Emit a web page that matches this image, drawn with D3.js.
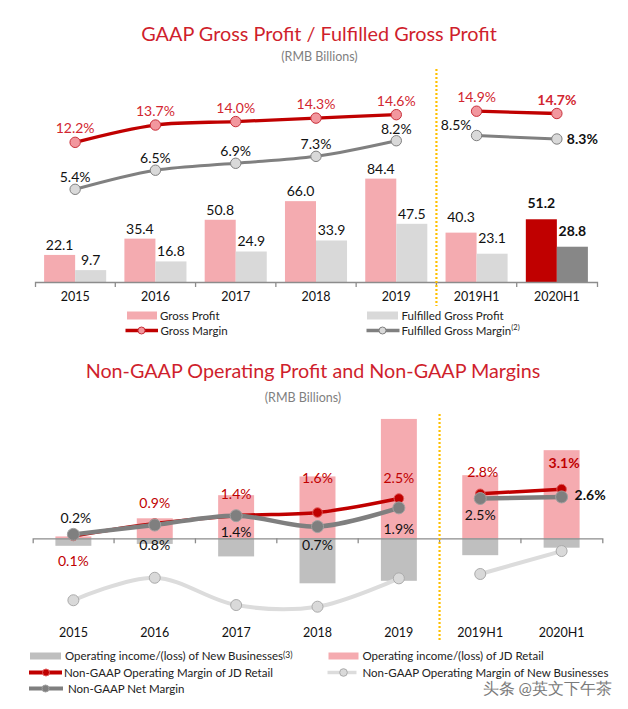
<!DOCTYPE html>
<html><head><meta charset="utf-8">
<script src="https://cdn.jsdelivr.net/npm/d3@7"></script>
<style>
body{margin:0;background:#fff}
svg{display:block}
text{font-family:Lato,"Open Sans",sans-serif}
</style>
</head><body>
<svg id="c" width="628" height="709"></svg>
<script>
// ---------------- DATA ----------------
const categories = ["2015","2016","2017","2018","2019","2019H1","2020H1"];
// Chart 1 (RMB billions / %)
const grossProfit = [22.1, 35.4, 50.8, 66.0, 84.4, 40.3, 51.2];
const fulfilledGrossProfit = [9.7, 16.8, 24.9, 33.9, 47.5, 23.1, 28.8];
const grossMargin = [12.2, 13.7, 14.0, 14.3, 14.6, 14.9, 14.7];
const fulfilledGrossMargin = [5.4, 6.5, 6.9, 7.3, 8.2, 8.5, 8.3];
// Chart 2 (RMB billions / %) - bar values
const retailOpIncome = [0.3, 3.2, 6.9, 9.9, 19.1, 10.1, 14.1];
const newBizOpIncome = [-1.2, -0.9, -2.9, -7.2, -6.8, -2.7, -1.5];
const retailOpMargin = [0.1, 0.9, 1.4, 1.6, 2.5, 2.8, 3.1];
const netMargin = [0.2, 0.8, 1.4, 0.7, 1.9, 2.5, 2.6];
const newBizOpMargin = [-41.5, -26.5, -44.7, -45.8, -26.9, -24.0, -8.7];
// Text
const title1 = "GAAP Gross Profit / Fulfilled Gross Profit";
const title2 = "Non-GAAP Operating Profit and Non-GAAP Margins";
const subtitle = "(RMB Billions)";

// ---------------- STYLE ----------------
const RED = "#c00000", PINK = "#f4abb0", LGREY = "#d9d9d9", GREY = "#808080", TRED = "#d22630";
const svg = d3.select("#c");
svg.append("rect").attr("width",628).attr("height",709).attr("fill","#fff");

function fit(t, w){ const L=t.node().getComputedTextLength(); const fs=parseFloat(t.attr("font-size")); t.attr("font-size", fs*w/L); }

// Titles
fit(svg.append("text").attr("x",319).attr("y",40.5).attr("text-anchor","middle").attr("font-size",20).attr("fill","#cf1f2d").text(title1), 356);
fit(svg.append("text").attr("x",313).attr("y",377.5).attr("text-anchor","middle").attr("font-size",20).attr("fill","#cf1f2d").text(title2), 455);
svg.append("text").attr("x",319.5).attr("y",61).attr("text-anchor","middle").attr("font-size",12.5).attr("fill","#7f7f7f").text(subtitle);
svg.append("text").attr("x",303).attr("y",402).attr("text-anchor","middle").attr("font-size",12.5).attr("fill","#7f7f7f").text(subtitle);

const isH = c => c.includes("H1");
const hl = i => categories[i] === "2020H1";
const curve = d3.curveCatmullRom.alpha(0.5);

// ================= CHART 1 =================
const g1 = svg.append("g");
const x1 = d3.scaleBand().domain(categories).range([35, 597]);
const sub1 = d3.scaleBand().domain(["gp","fgp"]).range([0, x1.bandwidth()]).paddingInner(0).paddingOuter(0.2935);
const yb1 = d3.scaleLinear().domain([0, 100]).range([282, 159.5]);
const ygm = d3.scaleLinear().domain([0, 20]).range([283, 283 - 230.6]);
const yfgm = d3.scaleLinear().domain([0, 10]).range([283, 283 - 173.5]);

// bars
categories.forEach((c, i) => {
  const vals = [["gp", grossProfit[i], hl(i) ? RED : PINK], ["fgp", fulfilledGrossProfit[i], hl(i) ? "#878787" : LGREY]];
  vals.forEach(([k, v, col]) => {
    const x = x1(c) + sub1(k);
    g1.append("rect").attr("x", x).attr("y", yb1(v)).attr("width", sub1.bandwidth()).attr("height", yb1(0) - yb1(v)).attr("fill", col);
    g1.append("text").attr("x", x + sub1.bandwidth()/2).attr("y", yb1(v) - (isH(c) ? 11 : 5))
      .attr("text-anchor","middle").attr("font-size",14).attr("fill","#111")
      .attr("font-weight", hl(i) ? "bold" : null).text(v.toFixed(1));
  });
});

// axis
const ax1 = g1.append("g").attr("transform","translate(0,282)")
  .call(d3.axisBottom(x1).tickSize(0).tickSizeOuter(5));
ax1.select(".domain").attr("stroke","#8c8c8c").attr("stroke-width",1.3);
ax1.selectAll(".tick text").attr("dy", null).attr("y", 19).attr("font-size",12.5).attr("fill","#111").attr("font-family","Lato");
categories.slice(1).forEach(c => g1.append("line").attr("x1", x1(c)).attr("x2", x1(c)).attr("y1",282).attr("y2",287).attr("stroke","#8c8c8c").attr("stroke-width",1.3));

// divider
g1.append("line").attr("x1", x1("2019H1")).attr("x2", x1("2019H1")).attr("y1",69).attr("y2",306)
  .attr("stroke","#ffc000").attr("stroke-width",2.2).attr("stroke-dasharray","2,2");

// lines
function drawLine(g, xs, ys, idx, color, width){
  const ln = d3.line().x(i => xs(categories[i]) + xs.bandwidth()/2).y(i => ys(i)).curve(curve);
  g.append("path").attr("d", ln(idx)).attr("fill","none").attr("stroke",color).attr("stroke-width",width).attr("stroke-linecap","round");
}
const annual = [0,1,2,3,4], half = [5,6];
[annual, half].forEach(idx => {
  drawLine(g1, x1, i => yfgm(fulfilledGrossMargin[i]), idx, GREY, 3);
  drawLine(g1, x1, i => ygm(grossMargin[i]), idx, RED, 3.3);
});
const cx1 = i => x1(categories[i]) + x1.bandwidth()/2;
categories.forEach((c, i) => {
  g1.append("circle").attr("cx", cx1(i)).attr("cy", yfgm(fulfilledGrossMargin[i])).attr("r",5.2).attr("fill",LGREY).attr("stroke",GREY).attr("stroke-width",1);
  g1.append("circle").attr("cx", cx1(i)).attr("cy", ygm(grossMargin[i])).attr("r",5.2).attr("fill","#f2979e").attr("stroke","#c8303a").attr("stroke-width",1);
  // gross margin label
  g1.append("text").attr("x", cx1(i)).attr("y", ygm(grossMargin[i]) - 9).attr("text-anchor","middle")
    .attr("font-size",14).attr("fill",TRED).attr("font-weight", hl(i) ? "bold" : null).text(grossMargin[i].toFixed(1) + "%");
  // fulfilled margin label
  const t = g1.append("text").attr("font-size",14).attr("fill","#111").attr("font-weight", hl(i) ? "bold" : null).text(fulfilledGrossMargin[i].toFixed(1) + "%");
  const cy = yfgm(fulfilledGrossMargin[i]);
  if (c === "2019H1") t.attr("x", cx1(i) - 5).attr("y", cy - 6).attr("text-anchor","end");
  else if (c === "2020H1") t.attr("x", cx1(i) + 10).attr("y", cy + 5).attr("text-anchor","start");
  else t.attr("x", cx1(i)).attr("y", cy - 7).attr("text-anchor","middle");
});

// legend 1
const lg1 = svg.append("g").attr("font-size",11.5).attr("fill","#222");
lg1.append("rect").attr("x",127).attr("y",311.5).attr("width",30).attr("height",8).attr("fill",PINK);
lg1.append("text").attr("x",160).attr("y",319.5).text("Gross Profit");
lg1.append("rect").attr("x",367).attr("y",311.5).attr("width",31).attr("height",8).attr("fill",LGREY);
lg1.append("text").attr("x",401.5).attr("y",319.5).text("Fulfilled Gross Profit");
lg1.append("line").attr("x1",125.5).attr("x2",158).attr("y1",330.5).attr("y2",330.5).attr("stroke",RED).attr("stroke-width",3.5);
lg1.append("circle").attr("cx",141.5).attr("cy",330.5).attr("r",3.5).attr("fill","#f2979e").attr("stroke","#c8303a");
lg1.append("text").attr("x",160.5).attr("y",334.5).text("Gross Margin");
lg1.append("line").attr("x1",366.5).attr("x2",399.5).attr("y1",330.5).attr("y2",330.5).attr("stroke",GREY).attr("stroke-width",3.5);
lg1.append("circle").attr("cx",382.5).attr("cy",330.5).attr("r",3.5).attr("fill",LGREY).attr("stroke",GREY);
const t1 = lg1.append("text").attr("x",401.5).attr("y",334.5).text("Fulfilled Gross Margin");
t1.append("tspan").attr("font-size",7.5).attr("dy",-5).text("(2)");

// ================= CHART 2 =================
const g2 = svg.append("g");
const x2 = d3.scaleBand().domain(categories).range([32.7, 602.3]);
const yb2 = d3.scaleLinear().domain([0, 20]).range([538.3, 538.3 - 125]);
const ym2 = d3.scaleLinear().domain([0, 5]).range([537.5, 537.5 - 78]);
const ynb = d3.scaleLinear().domain([-60, 0]).range([538 + 90, 538]);
const bw2 = x2.bandwidth() * 0.442;
const cx2 = i => x2(categories[i]) + x2.bandwidth()/2;

categories.forEach((c, i) => {
  const r = retailOpIncome[i], n = newBizOpIncome[i];
  g2.append("rect").attr("x", cx2(i) - bw2/2).attr("y", yb2(Math.max(r,0))).attr("width", bw2).attr("height", Math.abs(yb2(r) - yb2(0))).attr("fill","#f5abb0");
  g2.append("rect").attr("x", cx2(i) - bw2/2).attr("y", yb2(Math.max(n,0))).attr("width", bw2).attr("height", Math.abs(yb2(n) - yb2(0))).attr("fill","#bfbfbf");
});

const ax2 = g2.append("g").attr("transform","translate(0,538.3)")
  .call(d3.axisBottom(x2).tickSize(0).tickSizeOuter(5));
ax2.select(".domain").attr("stroke","#8c8c8c").attr("stroke-width",1.3);
ax2.selectAll(".tick text").attr("dy", null).attr("y", 98.7).attr("font-size",12.5).attr("fill","#111").attr("font-family","Lato");
categories.slice(1).forEach(c => g2.append("line").attr("x1", x2(c)).attr("x2", x2(c)).attr("y1",538.3).attr("y2",543.3).attr("stroke","#8c8c8c").attr("stroke-width",1.3));

g2.append("line").attr("x1", x2("2019H1")).attr("x2", x2("2019H1")).attr("y1",414).attr("y2",642)
  .attr("stroke","#ffc000").attr("stroke-width",2.2).attr("stroke-dasharray","2,2");

// new businesses margin line
[annual, half].forEach(idx => drawLine(g2, x2, i => ynb(newBizOpMargin[i]), idx, "#dcdcdc", 4));
categories.forEach((c, i) => g2.append("circle").attr("cx", cx2(i)).attr("cy", ynb(newBizOpMargin[i])).attr("r",5.5).attr("fill","#d9d9d9").attr("stroke","#ababab").attr("stroke-width",1));
// JD retail margin (red) and net margin (grey)
[annual, half].forEach(idx => drawLine(g2, x2, i => ym2(retailOpMargin[i]), idx, RED, 3.5));
categories.forEach((c, i) => g2.append("circle").attr("cx", cx2(i)).attr("cy", ym2(retailOpMargin[i])).attr("r",4.8).attr("fill",RED).attr("stroke","#e05a5a").attr("stroke-width",1));
[annual, half].forEach(idx => drawLine(g2, x2, i => ym2(netMargin[i]), idx, "#7f7f7f", 4.5));
categories.forEach((c, i) => g2.append("circle").attr("cx", cx2(i)).attr("cy", ym2(netMargin[i])).attr("r",6).attr("fill","#7f7f7f").attr("stroke","#a0a0a0").attr("stroke-width",1));

// labels
const redDy = [29.7, -15.8, -16.4, -29.2, -15.2, -16.5, -20.8];
const netDy = [-11, 25, 21, 23.5, 26, 21.5, 3];
categories.forEach((c, i) => {
  g2.append("text").attr("x", cx2(i) + (isH(c) ? 2.5 : 0)).attr("y", ym2(retailOpMargin[i]) + redDy[i]).attr("text-anchor","middle")
    .attr("font-size",14).attr("fill",RED).attr("font-weight", hl(i) ? "bold" : null).text(retailOpMargin[i].toFixed(1) + "%");
  const t = g2.append("text").attr("font-size",14).attr("fill","#111").attr("font-weight", hl(i) ? "bold" : null).text(netMargin[i].toFixed(1) + "%");
  if (hl(i)) t.attr("x", cx2(i) + 13).attr("y", ym2(netMargin[i]) + netDy[i]).attr("text-anchor","start");
  else t.attr("x", cx2(i) + (i === 0 ? 2.5 : 0)).attr("y", ym2(netMargin[i]) + netDy[i]).attr("text-anchor","middle");
});

// legend 2
const lg2 = svg.append("g").attr("font-size",11.5).attr("fill","#222");
lg2.append("rect").attr("x",30).attr("y",652.5).attr("width",31).attr("height",7).attr("fill","#bfbfbf");
const t2 = lg2.append("text").attr("x",65).attr("y",660).text("Operating income/(loss) of New Businesses");
t2.append("tspan").attr("font-size",8.5).attr("dy",-2).text("(3)");
lg2.append("rect").attr("x",328.5).attr("y",652.5).attr("width",30).attr("height",7).attr("fill","#f5abb0");
lg2.append("text").attr("x",362.5).attr("y",660).text("Operating income/(loss) of JD Retail");
lg2.append("line").attr("x1",29).attr("x2",62).attr("y1",672.5).attr("y2",672.5).attr("stroke",RED).attr("stroke-width",4);
lg2.append("circle").attr("cx",46).attr("cy",672.5).attr("r",3.5).attr("fill",RED).attr("stroke","#e05a5a");
lg2.append("text").attr("x",64).attr("y",676.5).text("Non-GAAP Operating Margin of JD Retail");
lg2.append("line").attr("x1",327.5).attr("x2",356.5).attr("y1",672.5).attr("y2",672.5).attr("stroke","#dcdcdc").attr("stroke-width",3.5);
lg2.append("circle").attr("cx",343.5).attr("cy",672.5).attr("r",3.8).attr("fill","#d9d9d9").attr("stroke","#ababab");
lg2.append("text").attr("x",362.5).attr("y",676.5).text("Non-GAAP Operating Margin of New Businesses");
lg2.append("line").attr("x1",29).attr("x2",63).attr("y1",688.5).attr("y2",688.5).attr("stroke","#7f7f7f").attr("stroke-width",4);
lg2.append("circle").attr("cx",45.5).attr("cy",688.5).attr("r",3.5).attr("fill","#7f7f7f").attr("stroke","#a0a0a0");
lg2.append("text").attr("x",68).attr("y",692.5).text("Non-GAAP Net Margin");

// watermark
svg.append("text").attr("x",482.5).attr("y",694).attr("font-size",16).attr("font-family","'Noto Sans CJK SC'")
  .attr("fill","#7a7a7a").attr("stroke","#fff").attr("stroke-width",2.5).attr("paint-order","stroke").text("头条 @英文下午茶");
</script>
</body></html>
